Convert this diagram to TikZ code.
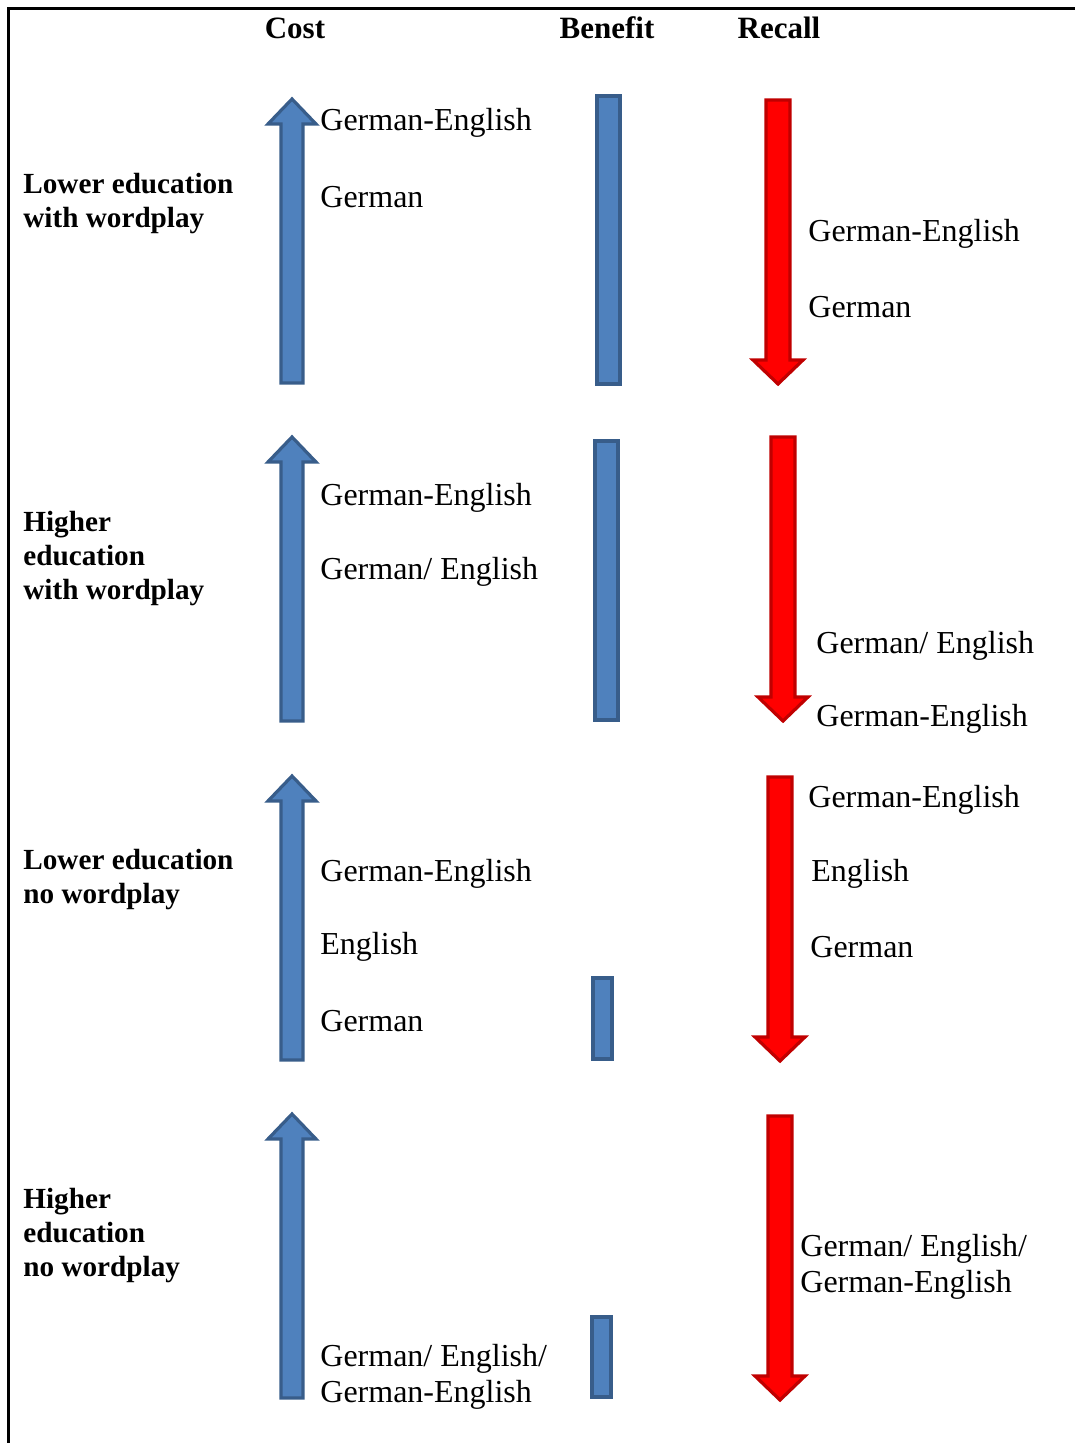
\documentclass[tikz,border=0pt]{standalone}
\usepackage{fontspec}
\setmainfont{Liberation Serif}
\usetikzlibrary{positioning}
\definecolor{costfill}{HTML}{4F81BD}
\definecolor{costline}{HTML}{385D8A}
\definecolor{recfill}{HTML}{FF0000}
\definecolor{recline}{HTML}{C00000}
\begin{document}
\begin{tikzpicture}[x=0.5pt, y=-0.5pt, head/.style={font=\fontsize{15.5}{18}\selectfont\bfseries, inner sep=0pt}, grp/.style={font=\fontsize{14.6}{17}\selectfont\bfseries, align=left, anchor=west, inner sep=0pt, yshift=-1.5pt}, lbl/.style={font=\fontsize{16}{18}\selectfont, align=left, anchor=west, inner sep=0pt, yshift=-1.5pt}, costarr/.style={draw=costline, fill=costfill, line width=1.6pt, line join=miter}, bar/.style={draw=costline, fill=costfill, line width=1.6pt}, recarr/.style={draw=recline, fill=recfill, line width=1.6pt, line join=miter}]
\useasboundingbox (0,0) rectangle (1075,1443);
% frame
\draw[line width=1.5pt] (8,1443) -- (8,9) -- (1075,9);
% column heads
\node[head] (hcost) at (295,28) {Cost};
\node[head] (hben) at (607,28) {Benefit};
\node[head] (hrec) at (779,28) {Recall};
% group labels
\node[grp] (g1) at (23,201) {Lower education\\with wordplay};
\node[grp] (g2) at (23,556) {Higher\\education\\with wordplay};
\node[grp] (g3) at (23,877) {Lower education\\no wordplay};
\node[grp] (g4) at (23,1233) {Higher\\education\\no wordplay};
% cost arrows
\foreach \t in {99,437,776,1114}
  \draw[costarr] (281,\t+284) -- (281,\t+25) -- (268,\t+25) -- (292,\t) -- (316,\t+25) -- (303,\t+25) -- (303,\t+284) -- cycle;
% benefit bars
\draw[bar] (597,96) rectangle (620,384);
\draw[bar] (595,441) rectangle (618,720);
\draw[bar] (593,978) rectangle (612,1059);
\draw[bar] (592,1317) rectangle (611,1397);
% recall arrows
\foreach \x/\t in {778/100,783/437,780/777,780/1116}
  \draw[recarr] (\x-12,\t) -- (\x-12,\t+260) -- (\x-25,\t+260) -- (\x,\t+284) -- (\x+25,\t+260) -- (\x+12,\t+260) -- (\x+12,\t) -- cycle;
% cost texts
\node[lbl] (c1a) at (320,120) {German-English};
\node[lbl] (c1b) at (320,194) {German};
\node[lbl] (c2a) at (320,495) {German-English};
\node[lbl] (c2b) at (320,569) {German/ English};
\node[lbl] (c3a) at (320,871) {German-English};
\node[lbl] (c3b) at (320,944) {English};
\node[lbl] (c3c) at (320,1018) {German};
\node[lbl] (c4a) at (320,1374) {German/ English/\\German-English};
% recall texts
\node[lbl] (r1a) at (808,231) {German-English};
\node[lbl] (r1b) at (808,304) {German};
\node[lbl] (r2a) at (816,643) {German/ English};
\node[lbl] (r2b) at (816,716) {German-English};
\node[lbl] (r3a) at (808,797) {German-English};
\node[lbl] (r3b) at (811,871) {English};
\node[lbl] (r3c) at (810,944) {German};
\node[lbl] (r4a) at (800,1264) {German/ English/\\German-English};
\end{tikzpicture}
\end{document}
